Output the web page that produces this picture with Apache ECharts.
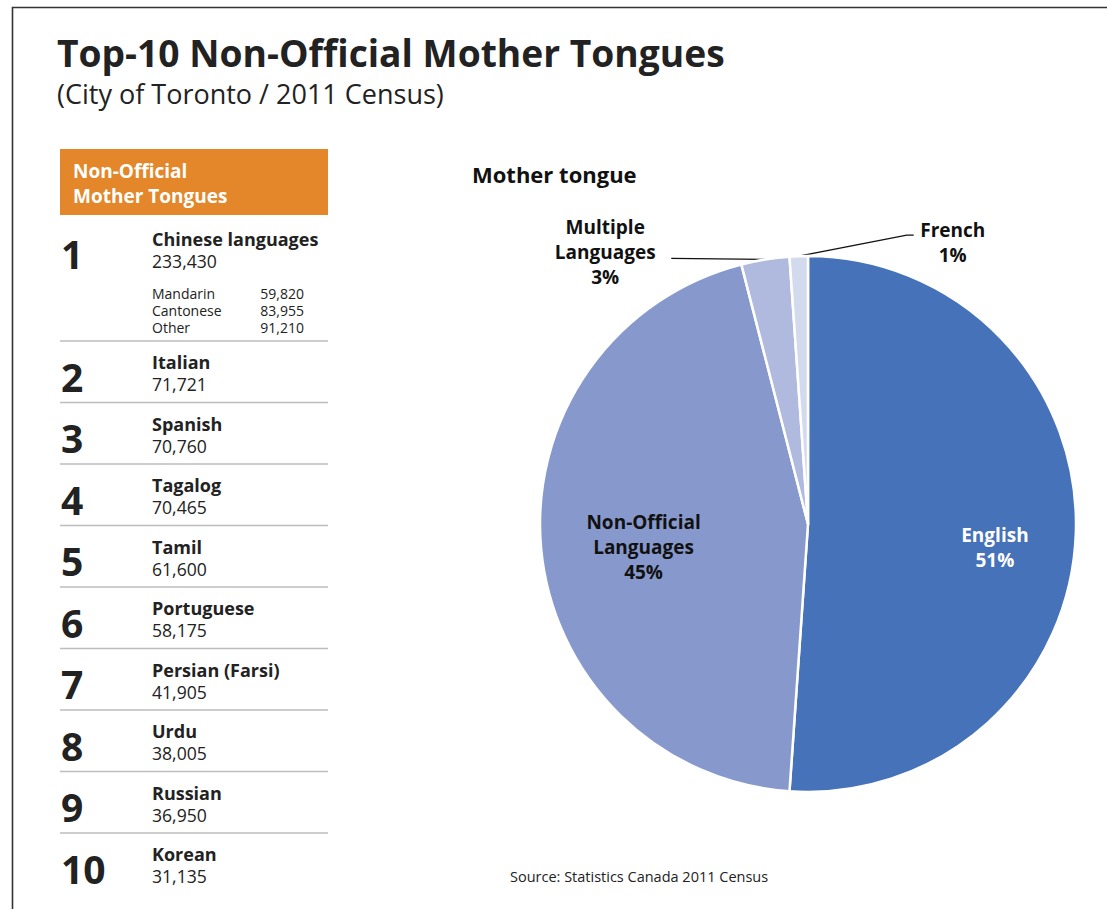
<!DOCTYPE html>
<html>
<head>
<meta charset="utf-8">
<script src="https://cdn.jsdelivr.net/npm/echarts@6/dist/echarts.min.js"></script>
<style>
html,body{margin:0;padding:0;background:#fff;}
#chart{width:1107px;height:909px;}
</style>
</head>
<body>
<div id="chart"></div>
<script>
// ---- data ----
const titleText = 'Top-10 Non-Official Mother Tongues';
const subtitleText = '(City of Toronto / 2011 Census)';
const tableHeader = 'Non-Official\nMother Tongues';
const ranks = ['1','2','3','4','5','6','7','8','9','10'];
const languages = ['Chinese languages','Italian','Spanish','Tagalog','Tamil','Portuguese','Persian (Farsi)','Urdu','Russian','Korean'];
const speakers = [233430,71721,70760,70465,61600,58175,41905,38005,36950,31135];
const chineseParts = ['Mandarin','Cantonese','Other'];
const chineseValues = [59820,83955,91210];
const pieTitle = 'Mother tongue';
const pieCategories = ['English','Non-Official\nLanguages','Multiple\nLanguages','French'];
const pieShares = [51.1,44.9,2.9,1.1];
const pieColors = ['#4572b8','#8799cc','#b0badf','#d4daee'];
const sourceText = 'Source: Statistics Canada 2011 Census';

// ---- build ----
const FF = '"Open Sans", sans-serif';
const fmt = v => v.toLocaleString('en-US');
const g = [];
// frame
g.push({type:'polyline', shape:{points:[[12.5,909],[12.5,7.5],[1107,7.5]]}, style:{stroke:'#333',lineWidth:1.6,fill:null}});
g.push({type:'text', style:{text:titleText, x:57, y:52, fontSize:37.2, fontWeight:'bold', fontFamily:FF, fill:'#222', verticalAlign:'middle'}});
g.push({type:'text', style:{text:subtitleText, x:57, y:93, fontSize:27, fontFamily:FF, fill:'#222', verticalAlign:'middle'}});
// table header
g.push({type:'rect', shape:{x:60,y:149,width:268,height:66}, style:{fill:'#e3872a'}});
g.push({type:'text', style:{text:tableHeader, x:73, y:183, fontSize:19, fontWeight:'bold', lineHeight:25, fontFamily:FF, fill:'#fff', verticalAlign:'middle'}});
// rows
for (let i = 0; i < ranks.length; i++) {
  let nameY, valY, numY;
  if (i === 0) { nameY = 239; valY = 261; numY = 253; }
  else {
    const L = 341 + (i - 1) * 61.5;
    g.push({type:'line', shape:{x1:60,y1:L,x2:328,y2:L}, style:{stroke:'#bdbdbd',lineWidth:1.5}});
    nameY = L + 21; valY = L + 43; numY = L + 35;
  }
  g.push({type:'text', style:{text:ranks[i], x:61, y:numY, fontSize:39, lineHeight:40, fontWeight:'bold', fontFamily:FF, fill:'#222', verticalAlign:'middle'}});
  g.push({type:'text', style:{text:languages[i], x:152, y:nameY, fontSize:18, lineHeight:19, fontWeight:'bold', fontFamily:FF, fill:'#222', verticalAlign:'middle'}});
  g.push({type:'text', style:{text:fmt(speakers[i]), x:152, y:valY, fontSize:17.6, lineHeight:19, fontFamily:FF, fill:'#222', verticalAlign:'middle'}});
}
const subY = [293, 310, 327];
chineseParts.forEach((p, j) => {
  g.push({type:'text', style:{text:p, x:152, y:subY[j], fontSize:14, lineHeight:15, fontFamily:FF, fill:'#222', verticalAlign:'middle'}});
  g.push({type:'text', style:{text:fmt(chineseValues[j]), x:304, y:subY[j], fontSize:14, lineHeight:15, fontFamily:FF, fill:'#222', align:'right', verticalAlign:'middle'}});
});
g.push({type:'text', style:{text:pieTitle, x:472, y:174, fontSize:22, fontWeight:'bold', fontFamily:FF, fill:'#111', verticalAlign:'middle'}});
g.push({type:'text', style:{text:sourceText, x:510, y:876, fontSize:14.5, fontFamily:FF, fill:'#222', verticalAlign:'middle'}});

const pieData = pieCategories.map((c, i) => {
  const inside = i < 2;
  return {
    name: c, value: pieShares[i],
    itemStyle: {color: pieColors[i]},
    label: {position: inside ? 'inside' : 'outside', color: i === 0 ? '#fff' : '#111'},
    labelLine: {show: !inside, length: 5, length2: 5, lineStyle:{color:'#111', width:1.3}}
  };
});

const chart = echarts.init(document.getElementById('chart'), null, {renderer:'svg'});
chart.setOption({
  animation: false,
  graphic: g,
  series: [{
    type: 'pie',
    center: [808, 524],
    radius: [0, 268],
    startAngle: 90,
    clockwise: true,
    percentPrecision: 0,
    data: pieData,
    itemStyle: {borderColor:'#fff', borderWidth:2.5},
    label: {formatter:'{b}\n{d}%', fontSize:19, fontWeight:'bold', lineHeight:25, fontFamily:FF, align:'center'},
    labelLayout: function (p) {
      if (p.dataIndex === 0) return {dx: 50, dy: 19};
      if (p.dataIndex === 1) return {dx: -28, dy: 11};
      const a = p.labelLinePoints[0];
      if (p.dataIndex === 2) {
        return {x: a[0] - 160, y: a[1] - 7, align:'center', verticalAlign:'middle',
                labelLinePoints: [a, [a[0] - 94, a[1] - 1], [a[0] - 94, a[1] - 1]]};
      }
      return {x: a[0] + 154, y: a[1] - 14, align:'center', verticalAlign:'middle',
              labelLinePoints: [a, [a[0] + 108, a[1] - 21], [a[0] + 115, a[1] - 21]]};
    }
  }]
});
</script>
</body>
</html>
